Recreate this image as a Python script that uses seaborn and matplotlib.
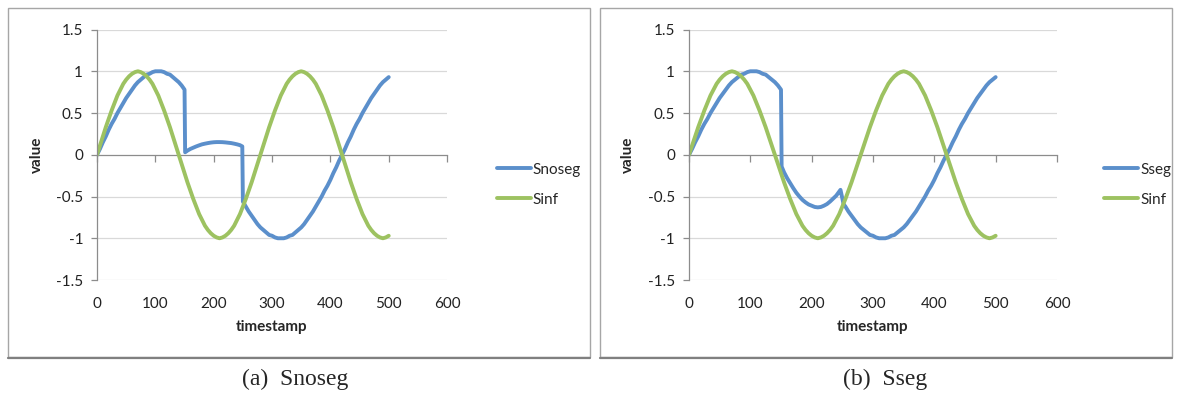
import pandas as pd
import seaborn as sns
import matplotlib.pyplot as plt
from matplotlib.patches import Rectangle

sinf_t = list(range(0, 501, 5))
sinf = [0.00, 0.11, 0.22, 0.33, 0.43, 0.53, 0.62, 0.71, 0.78, 0.85, 0.90, 0.94, 0.97, 0.99, 1.00,
        0.99, 0.97, 0.94, 0.90, 0.85, 0.78, 0.71, 0.62, 0.53, 0.43, 0.33, 0.22, 0.11, 0.00,
        -0.11, -0.22, -0.33, -0.43, -0.53, -0.62, -0.71, -0.78, -0.85, -0.90, -0.94, -0.97, -0.99, -1.00,
        -0.99, -0.97, -0.94, -0.90, -0.85, -0.78, -0.71, -0.62, -0.53, -0.43, -0.33, -0.22, -0.11, 0.00,
        0.11, 0.22, 0.33, 0.43, 0.53, 0.62, 0.71, 0.78, 0.85, 0.90, 0.94, 0.97, 0.99, 1.00,
        0.99, 0.97, 0.94, 0.90, 0.85, 0.78, 0.71, 0.62, 0.53, 0.43, 0.33, 0.22, 0.11, 0.00,
        -0.11, -0.22, -0.33, -0.43, -0.53, -0.62, -0.71, -0.78, -0.85, -0.90, -0.94, -0.97, -0.99, -1.00,
        -0.99, -0.97]

# blue series: identical before t=150 and after t=250 in both panels
blue_head = [0.00, 0.07, 0.15, 0.22, 0.30, 0.37, 0.43, 0.50, 0.56, 0.62, 0.68, 0.73, 0.78, 0.83,
             0.87, 0.90, 0.93, 0.96, 0.97, 0.99, 1.00, 1.00, 1.00, 0.99, 0.97, 0.96, 0.93, 0.90,
             0.87, 0.83, 0.78]
blue_tail = [-0.56, -0.62, -0.68, -0.73, -0.78, -0.83, -0.87, -0.90, -0.93, -0.96, -0.97, -0.99,
             -1.00, -1.00, -1.00, -0.99, -0.97, -0.96, -0.93, -0.90, -0.87, -0.83, -0.78, -0.73,
             -0.68, -0.62, -0.56, -0.50, -0.43, -0.37, -0.30, -0.22, -0.15, -0.07, 0.00, 0.07,
             0.15, 0.22, 0.30, 0.37, 0.43, 0.50, 0.56, 0.62, 0.68, 0.73, 0.78, 0.83, 0.87, 0.90,
             0.93]

snoseg_mid = [0.03, 0.05, 0.07, 0.085, 0.10, 0.113, 0.125, 0.133, 0.14, 0.146, 0.15, 0.152,
              0.152, 0.151, 0.148, 0.144, 0.14, 0.133, 0.125, 0.115, 0.10]
sseg_mid = [-0.14, -0.21, -0.28, -0.34, -0.40, -0.455, -0.50, -0.54, -0.57, -0.595, -0.61,
            -0.625, -0.63, -0.625, -0.61, -0.59, -0.56, -0.525, -0.49, -0.44, -0.42]

snoseg_t = list(range(0, 151, 5)) + [151] + list(range(155, 246, 5)) + [249] + list(range(250, 501, 5))
snoseg = blue_head + snoseg_mid + blue_tail
sseg_t = list(range(0, 151, 5)) + [151] + list(range(155, 246, 5)) + [247, 252] + list(range(255, 501, 5))
sseg = blue_head + sseg_mid + [-0.59] + blue_tail[1:]

captions = ['(a)  Snoseg', '(b)  Sseg']
blue = '#5B8FCB'
green = '#9DC261'
grid_c = '#D9D9D9'
axis_c = '#8C8C8C'

sns.set_style("white")
plt.rcParams['font.family'] = ['Lato', 'DejaVu Sans']

fig = plt.figure(figsize=(11.79, 4.05), dpi=100)


def make_panel(rect, seg_name, seg_t, seg_v, legend_x, label_x):
    ax = fig.add_axes(rect)
    df = pd.concat([
        pd.DataFrame({'timestamp': seg_t, 'value': seg_v, 'series': seg_name}),
        pd.DataFrame({'timestamp': sinf_t, 'value': sinf, 'series': 'Sinf'}),
    ], ignore_index=True)
    sns.lineplot(data=df, x='timestamp', y='value', hue='series',
                 palette=[blue, green], estimator=None, sort=False,
                 lw=2.8, ax=ax, legend=False, solid_joinstyle='round',
                 solid_capstyle='round')

    ax.set_xlim(0, 600)
    ax.set_ylim(-1.5, 1.5)
    ax.set_yticks([-1.5, -1, -0.5, 0, 0.5, 1, 1.5])
    ax.set_yticklabels(['-1.5', '-1', '-0.5', '0', '0.5', '1', '1.5'])
    ax.set_xticks(range(0, 601, 100))
    for y in [-1.5, -1, -0.5, 0.5, 1, 1.5]:
        ax.axhline(y, color=grid_c, lw=0.9, zorder=0)

    for s in ['top', 'right', 'bottom']:
        ax.spines[s].set_visible(False)
    ax.spines['left'].set_color(axis_c)
    ax.spines['left'].set_linewidth(0.9)
    ax.tick_params(axis='y', length=4, color=axis_c, width=0.9, pad=6,
                   labelsize=11, labelcolor='#222222', left=True)
    ax.tick_params(axis='x', length=0, pad=12, labelsize=11,
                   labelcolor='#222222')

    # x axis line crossing at value 0
    sec = ax.secondary_xaxis(0.5)
    sec.set_alignment('bottom')
    sec.set_xticks(range(0, 601, 100))
    sec.tick_params(axis='x', length=5, color=axis_c, width=0.9,
                    labelbottom=False, labeltop=False, bottom=True)
    sec.spines['bottom'].set_color(axis_c)
    sec.spines['bottom'].set_linewidth(0.9)

    ax.set_xlabel('timestamp', fontsize=11, fontweight='bold')
    ax.set_ylabel('value', fontsize=11, fontweight='bold')
    ax.xaxis.set_label_coords(0.5, -0.16)
    ax.yaxis.set_label_coords(label_x, 0.5)

    ax.legend(handles=ax.get_lines()[:2], labels=[seg_name, 'Sinf'],
              loc='center left', bbox_to_anchor=(legend_x, 0.544),
              bbox_transform=fig.transFigure, frameon=False, borderpad=0,
              handlelength=2.2, handletextpad=0.15, labelspacing=1.05,
              fontsize=11)
    return ax


make_panel([0.0823, 0.3086, 0.2969, 0.6185], 'Snoseg', snoseg_t, snoseg,
           0.415, -0.151)
make_panel([0.5844, 0.3086, 0.3121, 0.6185], 'Sseg', sseg_t, sseg,
           0.930, -0.147)

# panel frames with a slight shadow along the bottom
for x0, x1 in [(0.0064, 0.5), (0.5089, 0.9941)]:
    fig.add_artist(Rectangle((x0, 0.1185), x1 - x0, 0.8615,
                             transform=fig.transFigure, fill=False,
                             ec='#A6A6A6', lw=1))
    fig.add_artist(plt.Line2D([x0, x1], [0.1165, 0.1165],
                              transform=fig.transFigure, color='#808080', lw=1.6))

for x, cap in zip([0.250, 0.7506], captions):
    fig.text(x, 0.062, cap, ha='center', va='center', fontsize=17,
             family=['Liberation Serif', 'DejaVu Serif'])

plt.savefig('out.png', dpi=100)
